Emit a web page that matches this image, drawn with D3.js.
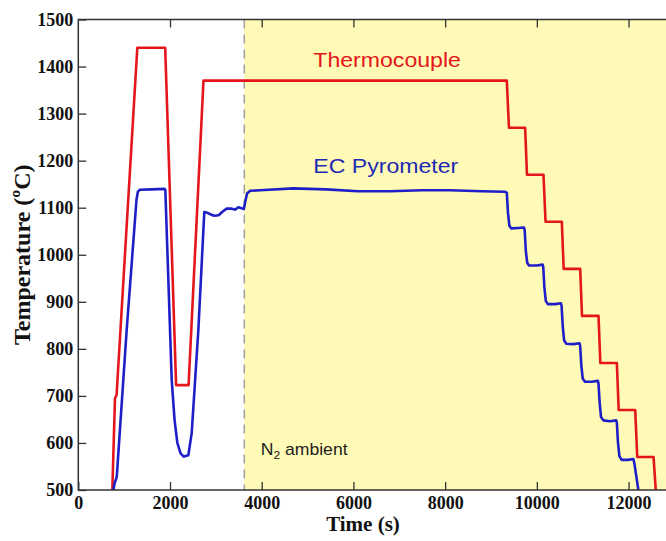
<!DOCTYPE html>
<html>
<head>
<meta charset="utf-8">
<script src="https://cdn.jsdelivr.net/npm/d3@7"></script>
<style>
  html, body { margin: 0; padding: 0; background: #fff; }
  svg { display: block; }
</style>
</head>
<body>
<svg id="chart" width="666" height="541"></svg>
<script>
// Thermocouple set-point trace (time in s, temperature in °C)
const tcTime = [742, 800, 835, 1287, 1895, 2133, 2405, 2730, 9345, 9392, 9745, 9785,
  10145, 10190, 10545, 10585, 10945, 10985, 11345, 11385, 11745, 11785, 12145, 12190, 12545, 12594];
const tcTemp = [500, 695, 702, 1440, 1440, 723, 723, 1370, 1370, 1270, 1270, 1170,
  1170, 1070, 1070, 970, 970, 870, 870, 770, 770, 670, 670, 570, 570, 500];

// EC pyrometer reading
const pyTime = [765, 800, 822, 840, 1055, 1270, 1300, 1340, 1600, 1880, 1898,
  2037, 2100, 2160, 2230, 2300, 2400, 2473, 2618, 2748, 2790, 2880, 2960, 3060, 3150, 3236,
  3330, 3420, 3490, 3560, 3610, 3640, 3680, 3750, 3960, 4690, 5400, 6100, 6800, 7500,
  8100, 8800, 9300, 9345, 9370, 9400, 9440, 9600, 9720,
  9735, 9760, 9790, 9830, 10000, 10125,
  10140, 10165, 10195, 10240, 10400, 10525,
  10540, 10565, 10595, 10640, 10800, 10930,
  10945, 10970, 11000, 11050, 11200, 11330,
  11345, 11370, 11400, 11450, 11600, 11730,
  11745, 11770, 11800, 11850, 11990, 12105,
  12130, 12214];
const pyTemp = [500, 518, 522, 530, 840, 1118, 1134, 1138, 1139, 1140, 1138,
  734, 648, 600, 578, 571, 574, 621, 840, 1091, 1090, 1086, 1083, 1084, 1092, 1098,
  1098, 1096, 1101, 1099, 1097, 1112, 1130, 1136, 1137, 1141, 1139, 1135, 1135, 1137,
  1137, 1135, 1134, 1132, 1090, 1062, 1056, 1057, 1058,
  1052, 1008, 983, 977, 977, 979,
  974, 930, 902, 895, 895, 897,
  891, 848, 818, 811, 810, 812,
  806, 765, 737, 730, 730, 732,
  726, 685, 655, 648, 646, 648,
  643, 600, 572, 564, 564, 566,
  555, 500];

const xTicks = [0, 2000, 4000, 6000, 8000, 10000, 12000];
const yTicks = [500, 600, 700, 800, 900, 1000, 1100, 1200, 1300, 1400, 1500];
const ambientStart = 3620;

const svg = d3.select("#chart");
const plotLeft = 78.3, plotRight = 674.4, plotTop = 19.5, plotBottom = 490;

const x = d3.scaleLinear().domain([0, 13000]).range([plotLeft, plotRight]);
const y = d3.scaleLinear().domain([500, 1500]).range([plotBottom, plotTop]);

// N2 ambient shaded region
svg.append("rect")
  .attr("x", x(ambientStart)).attr("y", plotTop)
  .attr("width", x(13000) - x(ambientStart)).attr("height", plotBottom - plotTop)
  .attr("fill", "#fffab6");

svg.append("line")
  .attr("x1", x(ambientStart)).attr("x2", x(ambientStart))
  .attr("y1", plotTop).attr("y2", plotBottom)
  .attr("stroke", "#a0a0a0").attr("stroke-width", 1.5)
  .attr("stroke-dasharray", "9,6");

svg.append("clipPath").attr("id", "plotClip")
  .append("rect").attr("x", plotLeft).attr("y", plotTop)
  .attr("width", plotRight - plotLeft).attr("height", plotBottom - plotTop);

const line = d3.line().x(d => x(d[0])).y(d => y(d[1]));

const tcData = tcTime.map((t, i) => [t, tcTemp[i]]);
const pyData = pyTime.map((t, i) => [t, pyTemp[i]]);

const g = svg.append("g").attr("clip-path", "url(#plotClip)");
g.append("path").datum(tcData).attr("d", line)
  .attr("fill", "none").attr("stroke", "#e4161c").attr("stroke-width", 2.6)
  .attr("stroke-linejoin", "round");
g.append("path").datum(pyData).attr("d", line)
  .attr("fill", "none").attr("stroke", "#1f1fc8").attr("stroke-width", 2.6)
  .attr("stroke-linejoin", "round");

// Axes with inward ticks on all four sides
const tickFont = "'Liberation Serif', 'Times New Roman', serif";
const fmt = d3.format("d");

const xAxis = svg.append("g").attr("transform", `translate(0,${plotBottom})`)
  .call(d3.axisBottom(x).tickValues(xTicks).tickFormat(fmt)
    .tickSizeInner(-8).tickSizeOuter(0).tickPadding(6));
const yAxis = svg.append("g").attr("transform", `translate(${plotLeft},0)`)
  .call(d3.axisLeft(y).tickValues(yTicks).tickFormat(fmt)
    .tickSizeInner(-8).tickSizeOuter(0).tickPadding(5));
const xTop = svg.append("g").attr("transform", `translate(0,${plotTop})`)
  .call(d3.axisTop(x).tickValues(xTicks.slice(1)).tickSizeInner(-8).tickSizeOuter(0).tickFormat(""));
const yRight = svg.append("g").attr("transform", `translate(${plotRight},0)`)
  .call(d3.axisRight(y).tickValues(yTicks.slice(1, -1)).tickSizeInner(-8).tickSizeOuter(0).tickFormat(""));

[xAxis, yAxis, xTop, yRight].forEach(a => {
  a.select(".domain").remove();
  a.selectAll(".tick line").attr("stroke", "#333").attr("stroke-width", 1.3);
  a.selectAll(".tick text")
    .attr("font-family", tickFont).attr("font-weight", "bold")
    .attr("font-size", 18).attr("fill", "#111");
});

// Frame
svg.append("rect")
  .attr("x", plotLeft).attr("y", plotTop)
  .attr("width", plotRight - plotLeft).attr("height", plotBottom - plotTop)
  .attr("fill", "none").attr("stroke", "#333").attr("stroke-width", 1.5);

// Axis titles
svg.append("text")
  .attr("x", 363).attr("y", 531)
  .attr("text-anchor", "middle")
  .attr("font-family", tickFont).attr("font-weight", "bold").attr("font-size", 21)
  .attr("fill", "#111")
  .text("Time (s)");

svg.append("text")
  .attr("transform", `translate(30,${(plotTop + plotBottom) / 2}) rotate(-90)`)
  .attr("text-anchor", "middle")
  .attr("font-family", tickFont).attr("font-weight", "bold").attr("font-size", 24)
  .attr("fill", "#111")
  .text("Temperature (ºC)");

// Series labels
const sans = "'Liberation Sans', Arial, sans-serif";
svg.append("text")
  .attr("transform", "translate(313.3,66.7) scale(1.1,1)")
  .attr("font-family", sans).attr("font-size", 21)
  .attr("fill", "#e4161c")
  .text("Thermocouple");

svg.append("text")
  .attr("transform", "translate(313.3,173.3) scale(1.1,1)")
  .attr("font-family", sans).attr("font-size", 21)
  .attr("fill", "#1e2ab4")
  .text("EC Pyrometer");

const amb = svg.append("text")
  .attr("transform", "translate(260.7,455) scale(1.1,1)")
  .attr("font-family", sans).attr("font-size", 16)
  .attr("fill", "#222");
amb.append("tspan").text("N");
amb.append("tspan").attr("font-size", 11).attr("dy", 4).text("2");
amb.append("tspan").attr("dy", -4).text(" ambient");
</script>
</body>
</html>
